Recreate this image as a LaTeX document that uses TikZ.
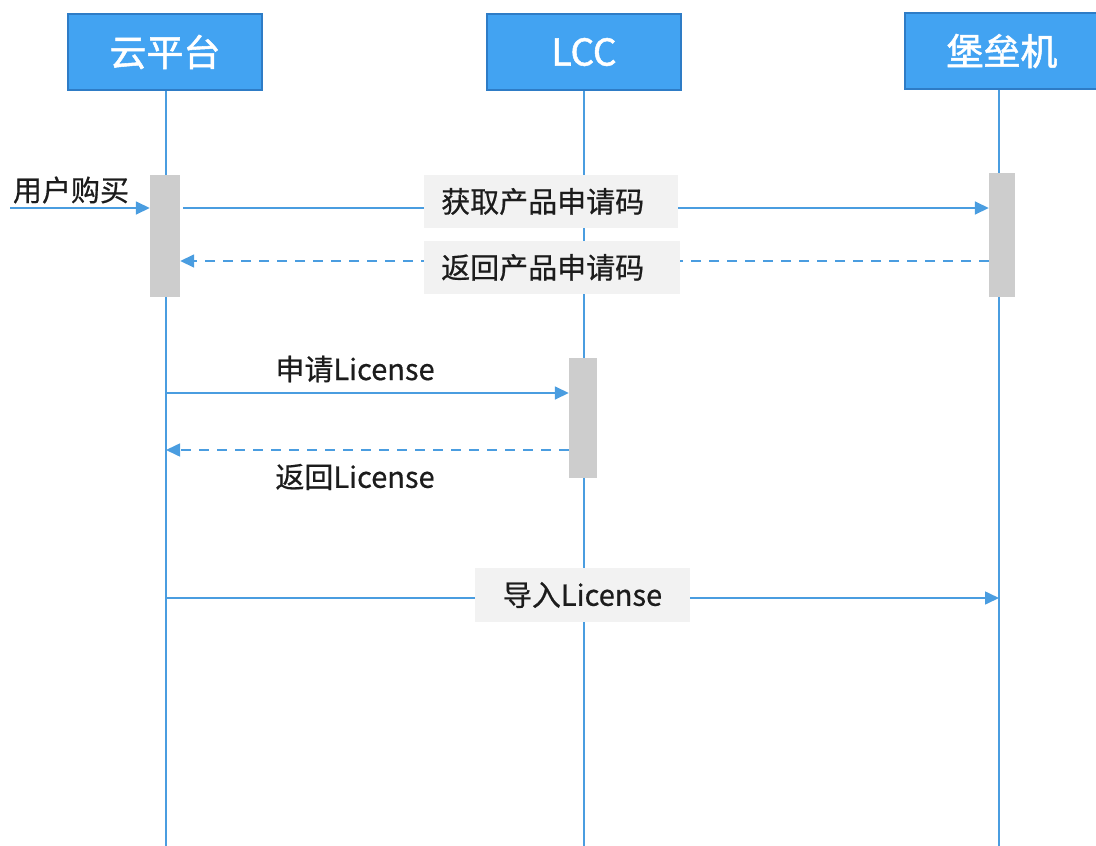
\documentclass[tikz,border=0pt]{standalone}
\usepackage{fontspec}
\setmainfont{Noto Sans CJK SC}
\newfontfamily\hdrfont[RawFeature={embolden=1.4}]{Noto Sans CJK SC}
\newfontfamily\labfont[RawFeature={embolden=0.6}]{Noto Sans CJK SC}
\usetikzlibrary{arrows.meta}
\definecolor{boxblue}{HTML}{42A3F2}
\definecolor{boxedge}{HTML}{2E7CC6}
\definecolor{lineblue}{HTML}{4A9DE0}
\definecolor{bargray}{HTML}{CDCDCD}
\definecolor{labgray}{HTML}{F2F2F2}
\definecolor{txt}{HTML}{1C1C1C}
\begin{document}
\begin{tikzpicture}[x=1pt,y=1pt,
  actor/.style={draw=boxedge,line width=1.5pt,fill=boxblue,text=white,
    minimum width=194pt,minimum height=76pt,inner sep=0pt,
    font=\hdrfont\fontsize{37}{40}\selectfont},
  life/.style={draw=lineblue,line width=1.6pt},
  bar/.style={fill=bargray,draw=none,inner sep=0pt},
  msg/.style={draw=lineblue,line width=1.6pt,-{Triangle[length=14pt,width=13pt]}},
  ret/.style={msg,dash pattern=on 10pt off 8pt},
  lab/.style={text=txt,font=\labfont\fontsize{29}{33}\selectfont,inner sep=0pt},
  labbox/.style={lab,fill=labgray},
]
\useasboundingbox (0,0) rectangle (1096,-846);
% actors
\node[actor] (a) at (165,-52) {云平台};
\node[actor] (l) at (584,-52) {LCC};
\node[actor] (c) at (1002,-51) {堡垒机};
% lifeline ends
\coordinate (aend) at (166,-846);
\coordinate (lend) at (584,-846);
\coordinate (cend) at (999,-846);
\draw[life] (a.south -| aend) -- (aend);
\draw[life] (l.south -| lend) -- (lend);
\draw[life] (c.south -| cend) -- (cend);
% activation bars
\node[bar,minimum width=30pt,minimum height=122pt] (b1) at (165,-236) {};
\node[bar,minimum width=26pt,minimum height=124pt] (b2) at (1002,-235) {};
\node[bar,minimum width=28pt,minimum height=120pt] (b3) at (583,-418) {};
% messages
\coordinate (u) at (10,-208);
\draw[msg] (u) -- (u -| b1.west);
\node[lab] (ul) at (71,-190) {用户购买};

\coordinate (m1) at (183,-208);
\draw[msg] (m1) -- (m1 -| b2.west);
\node[labbox,text width=220pt,align=left,inner xsep=17pt,minimum height=53pt,anchor=west] (t1) at (424,-201.5) {获取产品申请码};

\coordinate (m2) at (989,-261);
\draw[ret] (m2) -- (m2 -| b1.east);
\node[labbox,text width=222pt,align=left,inner xsep=17pt,minimum height=53pt,anchor=west] (t2) at (424,-267.5) {返回产品申请码};

\coordinate (m3) at (167,-393);
\draw[msg] (m3) -- (m3 -| b3.west);
\node[lab] (t3) at (355,-369) {申请License};

\coordinate (m4) at (569,-450);
\draw[ret] (m4 -| b3.west) -- (m4 -| aend);
\node[lab] (t4) at (355,-477) {返回License};

\coordinate (m5) at (167,-598);
\draw[msg] (m5) -- (m5 -| cend);
\node[labbox,minimum width=215pt,minimum height=54pt] (t5) at (582.5,-595) {导入License};
\end{tikzpicture}
\end{document}
